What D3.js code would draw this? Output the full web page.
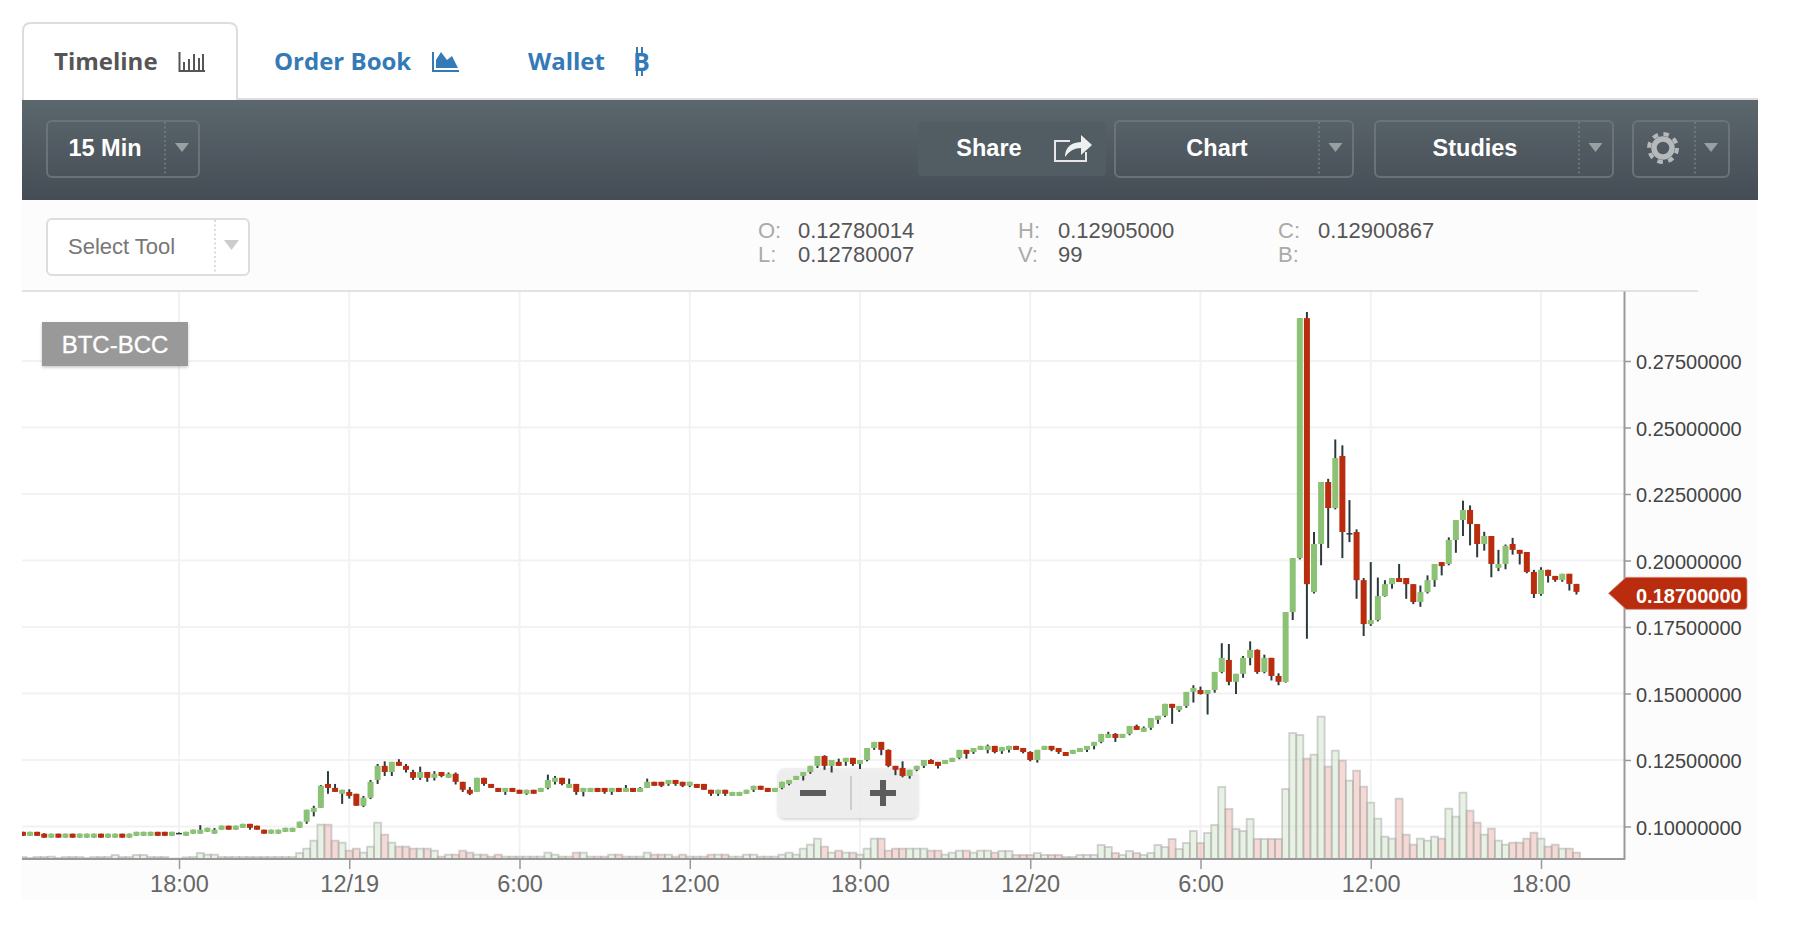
<!DOCTYPE html>
<html><head><meta charset="utf-8">
<script src="https://cdn.jsdelivr.net/npm/d3@7/dist/d3.min.js"></script>
<style>html,body{margin:0;padding:0;background:#fff;overflow:hidden}svg{display:block}</style>
</head><body><svg id="c" width="1794" height="932"></svg>
<script>
const firstBar = new Date(2017,11,18,12,30);
const barMinutes = 15;
const opens = [
.0980,.0965,.0980,.0973,.0958,.0973,.0958,.0973,.0958,.0958,
.0958,.0973,.0958,.0958,.0973,.0958,.0965,.0965,.0965,.0980,
.0980,.0965,.0976,.0965,.0973,.0973,.0980,.0973,.0988,.1003,
.0988,.0995,.1010,.1003,.0988,.0973,.0973,.0980,.0980,.0995,
.1018,.1055,.1070,.1160,.1145,.1123,.1130,.1123,.1078,.1108,
.1175,.1228,.1205,.1243,.1228,.1205,.1183,.1205,.1183,.1205,
.1183,.1198,.1168,.1138,.1130,.1183,.1160,.1145,.1130,.1145,
.1138,.1123,.1138,.1130,.1145,.1168,.1183,.1145,.1160,.1130,
.1130,.1145,.1145,.1130,.1145,.1130,.1145,.1130,.1145,.1168,
.1168,.1160,.1175,.1168,.1153,.1160,.1160,.1138,.1123,.1138,
.1115,.1115,.1123,.1138,.1153,.1145,.1130,.1145,.1160,.1175,
.1190,.1205,.1228,.1265,.1228,.1243,.1243,.1258,.1235,.1250,
.1295,.1318,.1288,.1228,.1220,.1190,.1213,.1228,.1250,.1243,
.1235,.1243,.1258,.1288,.1280,.1288,.1288,.1303,.1283,.1288,
.1303,.1295,.1280,.1250,.1288,.1303,.1295,.1280,.1273,.1280,
.1288,.1303,.1318,.1333,.1348,.1333,.1348,.1378,.1356,.1371,
.1401,.1416,.1461,.1438,.1453,.1506,.1513,.1498,.1513,.1581,
.1626,.1544,.1574,.1634,.1664,.1581,.1634,.1566,.1543,.1806,
.2009,.2911,.1881,.2062,.2295,.2197,.2393,.2103,.2107,.1926,
.1761,.1776,.1866,.1911,.1934,.1934,.1911,.1844,.1881,.1926,
.1994,.1987,.2077,.2152,.2190,.2137,.2062,.2092,.1972,.1987,
.2062,.2040,.2032,.1957,.1874,.1965,.1942,.1927,.1950,.1912];
const closes = [
.0965,.0980,.0965,.0958,.0973,.0958,.0973,.0958,.0973,.0973,
.0973,.0958,.0973,.0973,.0958,.0973,.0980,.0980,.0980,.0965,
.0965,.0980,.0976,.0980,.0988,.0988,.0995,.0988,.1003,.0988,
.1003,.1010,.0995,.0988,.0973,.0988,.0988,.0995,.0995,.1018,
.1063,.1070,.1153,.1145,.1130,.1138,.1115,.1078,.1108,.1168,
.1228,.1205,.1243,.1228,.1213,.1183,.1205,.1183,.1198,.1190,
.1198,.1168,.1138,.1123,.1183,.1160,.1145,.1130,.1145,.1130,
.1123,.1138,.1123,.1145,.1175,.1183,.1160,.1160,.1130,.1145,
.1145,.1130,.1130,.1145,.1130,.1145,.1130,.1145,.1168,.1153,
.1153,.1175,.1160,.1153,.1168,.1145,.1138,.1123,.1138,.1123,
.1130,.1130,.1138,.1153,.1138,.1130,.1145,.1168,.1175,.1190,
.1205,.1228,.1265,.1228,.1250,.1228,.1258,.1235,.1250,.1295,
.1318,.1288,.1228,.1213,.1190,.1213,.1228,.1250,.1235,.1228,
.1250,.1258,.1288,.1273,.1295,.1303,.1303,.1280,.1298,.1303,
.1288,.1280,.1250,.1288,.1303,.1288,.1280,.1265,.1288,.1295,
.1303,.1318,.1348,.1348,.1333,.1348,.1378,.1363,.1371,.1408,
.1416,.1461,.1446,.1453,.1506,.1521,.1498,.1513,.1581,.1634,
.1544,.1574,.1634,.1664,.1581,.1634,.1566,.1544,.1806,.2009,
.2911,.1911,.2062,.2295,.2197,.2385,.2107,.2103,.1926,.1761,
.1776,.1866,.1911,.1934,.1919,.1911,.1844,.1881,.1926,.1987,
.1979,.2077,.2152,.2190,.2137,.2062,.2092,.1987,.1987,.2055,
.2040,.2025,.1957,.1874,.1965,.1942,.1927,.1950,.1912,.1882];
const highs = [
.0980,.0980,.0980,.0975,.0973,.0973,.0973,.0973,.0973,.0973,
.0973,.0973,.0973,.0973,.0973,.0973,.0980,.0980,.0980,.0980,
.0980,.0980,.0977,.0980,.0988,.1005,.0995,.0994,.1003,.1003,
.1003,.1010,.1010,.1003,.0988,.0988,.0988,.0995,.0995,.1018,
.1063,.1078,.1156,.1208,.1160,.1138,.1140,.1123,.1115,.1175,
.1235,.1245,.1243,.1253,.1235,.1213,.1225,.1205,.1208,.1205,
.1203,.1203,.1168,.1148,.1183,.1183,.1160,.1145,.1145,.1145,
.1138,.1138,.1138,.1145,.1195,.1190,.1183,.1180,.1160,.1145,
.1145,.1145,.1145,.1145,.1145,.1156,.1145,.1148,.1180,.1168,
.1168,.1175,.1175,.1168,.1168,.1160,.1160,.1138,.1138,.1138,
.1130,.1130,.1138,.1153,.1153,.1145,.1145,.1168,.1175,.1190,
.1205,.1228,.1265,.1268,.1250,.1255,.1258,.1258,.1250,.1295,
.1318,.1318,.1290,.1228,.1245,.1213,.1228,.1250,.1253,.1243,
.1250,.1258,.1288,.1288,.1295,.1303,.1308,.1303,.1298,.1303,
.1303,.1295,.1283,.1288,.1303,.1303,.1295,.1280,.1288,.1295,
.1303,.1318,.1348,.1356,.1351,.1348,.1378,.1383,.1376,.1408,
.1416,.1461,.1461,.1453,.1506,.1531,.1526,.1513,.1581,.1689,
.1686,.1574,.1641,.1696,.1666,.1646,.1634,.1576,.1806,.2009,
.2911,.2934,.2107,.2295,.2307,.2455,.2433,.2227,.2117,.1934,
.1994,.1936,.1926,.1934,.1987,.1934,.1911,.1906,.1944,.1987,
.1994,.2087,.2152,.2225,.2207,.2137,.2108,.2092,.2040,.2060,
.2085,.2040,.2032,.1965,.1975,.1965,.1942,.1950,.1950,.1912];
const lows = [
.0965,.0965,.0965,.0958,.0958,.0958,.0958,.0958,.0958,.0958,
.0958,.0958,.0958,.0958,.0958,.0958,.0965,.0965,.0965,.0965,
.0965,.0965,.0975,.0965,.0973,.0973,.0980,.0973,.0988,.0988,
.0988,.0995,.0988,.0988,.0973,.0973,.0973,.0980,.0980,.0995,
.1010,.1038,.1070,.1123,.1130,.1085,.1105,.1078,.1073,.1103,
.1160,.1190,.1190,.1228,.1203,.1175,.1175,.1168,.1173,.1185,
.1183,.1158,.1130,.1118,.1130,.1153,.1145,.1130,.1119,.1130,
.1123,.1119,.1123,.1130,.1140,.1158,.1155,.1145,.1119,.1113,
.1130,.1130,.1123,.1119,.1130,.1130,.1130,.1130,.1145,.1153,
.1148,.1153,.1153,.1148,.1148,.1145,.1138,.1115,.1115,.1115,
.1115,.1115,.1123,.1130,.1138,.1130,.1130,.1140,.1155,.1175,
.1173,.1198,.1220,.1213,.1203,.1228,.1228,.1228,.1216,.1245,
.1288,.1268,.1223,.1193,.1185,.1180,.1208,.1220,.1235,.1218,
.1235,.1243,.1253,.1255,.1273,.1288,.1275,.1275,.1273,.1278,
.1288,.1275,.1245,.1240,.1288,.1283,.1273,.1265,.1273,.1280,
.1280,.1290,.1313,.1333,.1318,.1333,.1343,.1363,.1356,.1363,
.1386,.1411,.1386,.1431,.1446,.1466,.1496,.1421,.1503,.1576,
.1531,.1498,.1559,.1606,.1574,.1576,.1549,.1531,.1541,.1776,
.2004,.1706,.1876,.1982,.2047,.2192,.2009,.2069,.1856,.1716,
.1754,.1771,.1864,.1894,.1919,.1856,.1836,.1826,.1876,.1901,
.1944,.1982,.2029,.2092,.2057,.2012,.2037,.1937,.1960,.1967,
.2022,.1985,.1952,.1859,.1867,.1917,.1920,.1920,.1887,.1872];
const volumes = [
6,3,6,6,7,3,6,6,6,3,
6,6,6,12,6,6,12,12,6,6,
6,1,1,5,6,18,13,13,6,6,
6,6,6,6,6,6,6,6,6,18,
31,55,103,103,55,49,25,31,19,37,
109,73,49,37,37,31,31,31,25,7,
13,13,25,19,13,13,7,13,7,7,
7,7,7,7,19,13,7,7,19,19,
7,7,7,13,13,7,7,7,19,13,
13,13,7,13,7,7,7,13,13,13,
7,7,13,13,7,7,7,13,19,13,
31,43,61,37,19,25,19,19,13,31,
61,61,25,31,31,31,31,31,25,25,
13,19,25,25,19,25,25,19,24,24,
12,12,12,18,12,12,12,6,6,12,
12,12,42,36,18,12,24,18,12,18,
42,36,60,30,48,84,48,78,102,216,
150,90,84,120,60,60,60,60,210,378,
372,301,313,427,277,325,295,235,265,217,
169,121,67,61,181,73,43,61,55,67,
61,151,127,199,145,109,73,91,55,43,
49,49,61,79,61,37,43,31,31,19];
const priceTicks = [0.1,0.125,0.15,0.175,0.2,0.225,0.25,0.275];
const timeTicks = [[2017,11,18,18],[2017,11,19,0],[2017,11,19,6],[2017,11,19,12],[2017,11,19,18],[2017,11,20,0],[2017,11,20,6],[2017,11,20,12],[2017,11,20,18]];
const timeLabels = ["18:00","12/19","6:00","12:00","18:00","12/20","6:00","12:00","18:00"];
const lastPrice = 0.187;
const pair = "BTC-BCC";
const infoRows = [["O:","0.12780014",758,798,230],["L:","0.12780007",758,798,254],["H:","0.12905000",1018,1058,230],["V:","99",1018,1058,254],["C:","0.12900867",1278,1318,230],["B:","",1278,1318,254]];

const SANS = "'Liberation Sans',Arial,sans-serif", OPEN = "'Open Sans',sans-serif";
const UP="#8cc276", DOWN="#b92c0e", WICK="#2b3a3c";
const svg=d3.select("#c");
const T=(g,x,y,s,o={})=>g.append("text").attr("x",x).attr("y",y).text(s).attr("dominant-baseline","central")
  .attr("font-family",o.f||SANS).attr("font-size",o.s||23).attr("font-weight",o.w||400).attr("fill",o.c||"#555").attr("text-anchor",o.a||"start");

// ---------- chrome ----------
const defs=svg.append("defs");
const gr=defs.append("linearGradient").attr("id","tb").attr("x1",0).attr("x2",0).attr("y1",0).attr("y2",1);
gr.append("stop").attr("offset",0).attr("stop-color","#5c676d");
gr.append("stop").attr("offset",1).attr("stop-color","#454c55");
defs.append("clipPath").attr("id","plot").append("rect").attr("x",22).attr("y",291).attr("width",1602).attr("height",568);
const sh=defs.append("filter").attr("id","shd").attr("x","-10%").attr("y","-10%").attr("width","120%").attr("height","130%");
sh.append("feDropShadow").attr("dx",0).attr("dy",1.5).attr("stdDeviation",1.5).attr("flood-color","#000").attr("flood-opacity",.22);

svg.append("rect").attr("x",22).attr("y",200).attr("width",1736).attr("height",700).attr("fill","#fcfcfc");
svg.append("rect").attr("x",22).attr("y",291).attr("width",1602).attr("height",568).attr("fill","#fff");
svg.append("line").attr("x1",237).attr("x2",1758).attr("y1",99).attr("y2",99).attr("stroke","#ddd").attr("stroke-width",2);
svg.append("path").attr("d","M23,100V31Q23,23 31,23H229Q237,23 237,31V100").attr("fill","#fff").attr("stroke","#ddd").attr("stroke-width",2);
svg.append("rect").attr("x",22).attr("y",100).attr("width",1736).attr("height",100).attr("fill","url(#tb)");

// tabs
const tabs=svg.append("g");
T(tabs,54,60,"Timeline",{f:OPEN,s:24,w:700,c:"#555"});
T(tabs,274,60,"Order Book",{f:OPEN,s:24,w:700,c:"#337ab7"});
T(tabs,528,60,"Wallet",{f:OPEN,s:24,w:700,c:"#337ab7"});
tabs.append("path").attr("d","M179.5,52V71H205 M184,70V62 M189,70V59 M194,70V54 M199,70V58 M203,70V54").attr("fill","none").attr("stroke","#555").attr("stroke-width",2);
tabs.append("path").attr("d","M433,52V71H459").attr("fill","none").attr("stroke","#337ab7").attr("stroke-width",2);
tabs.append("path").attr("d","M436,68V60L441,52L447,60L452,56L458,68Z").attr("fill","#337ab7");
T(tabs,633,61,"B",{f:OPEN,s:25,w:700,c:"#337ab7"});
tabs.append("path").attr("d","M637,47V53M642,47V53M637,70V76M642,70V76").attr("stroke","#337ab7").attr("stroke-width",2);

// toolbar buttons
function btn(x0,x1,div,arrow,label,cx){
  const g=svg.append("g");
  g.append("rect").attr("x",x0).attr("y",121).attr("width",x1-x0).attr("height",56).attr("rx",5).attr("fill","none").attr("stroke","#6b7379").attr("stroke-width",2);
  g.append("line").attr("x1",div).attr("x2",div).attr("y1",122).attr("y2",176).attr("stroke","#7d8489").attr("stroke-width",1.3).attr("stroke-dasharray","2 2.5");
  g.append("path").attr("d",`M${arrow-7},143H${arrow+7}L${arrow},152Z`).attr("fill","#98a0a4");
  if(label) T(g,cx,148,label,{s:23.5,w:700,c:"#fff",a:"middle"});
}
btn(47,199,165,182,"15 Min",105);
btn(1115,1353,1319,1335.5,"Chart",1217);
btn(1375,1613,1579,1595.5,"Studies",1475);
btn(1633,1729,1695,1711,"",0);
svg.append("rect").attr("x",918).attr("y",122).attr("width",188).attr("height",54).attr("rx",4).attr("fill","#525d63");
T(svg,989,148,"Share",{s:23.5,w:700,c:"#fff",a:"middle"});
svg.append("path").attr("d","M1070,141H1055V161H1086V152").attr("fill","none").attr("stroke","#e4e6e7").attr("stroke-width",2);
svg.append("path").attr("d","M1065,157Q1065,143 1081,142V135L1092,145L1081,155V148Q1071,148 1065,157Z").attr("fill","#eef0f0");
// gear
svg.append("circle").attr("cx",1663).attr("cy",148).attr("r",9).attr("fill","none").attr("stroke","#b5b9bb").attr("stroke-width",5.5);
svg.append("circle").attr("cx",1663).attr("cy",148).attr("r",14).attr("fill","none").attr("stroke","#b5b9bb").attr("stroke-width",4).attr("stroke-dasharray","5.5 5.5");

// select tool
const st=svg.append("g");
st.append("rect").attr("x",47).attr("y",219).attr("width",202).attr("height",56).attr("rx",5).attr("fill","#fff").attr("stroke","#ddd").attr("stroke-width",2);
st.append("line").attr("x1",215).attr("x2",215).attr("y1",220).attr("y2",274).attr("stroke","#c8c8c8").attr("stroke-width",1.3).attr("stroke-dasharray","2 2.5");
st.append("path").attr("d","M224,240H239L231.5,250Z").attr("fill","#ccc");
T(st,68,246,"Select Tool",{s:22,c:"#777"});

// O/H/L/C block
const info=svg.append("g");
infoRows.forEach(r=>{T(info,r[2],r[4],r[0],{s:22,c:"#aaa"});if(r[1])T(info,r[3],r[4],r[1],{s:22,c:"#555"});});
svg.append("line").attr("x1",22).attr("x2",1698).attr("y1",291).attr("y2",291).attr("stroke","#e2e2e2").attr("stroke-width",2);

// ---------- scales ----------
const tickDates=timeTicks.map(a=>new Date(...a));
const x=d3.scaleTime().domain([tickDates[0],tickDates[8]]).range([179,1541]);
const y=d3.scaleLinear().domain([0.08778,0.30131]).range([859,291]);
const v=d3.scaleLinear().domain([0,429]).range([859,716]);
const bars=opens.map((o,i)=>({t:new Date(+firstBar+i*barMinutes*60000),o,c:closes[i],h:highs[i],l:lows[i],vol:volumes[i]}));
const bw=6, vw=7;

// grid
const grid=svg.append("g").attr("stroke","#f2f2f2").attr("stroke-width",2);
grid.selectAll(".h").data(priceTicks).join("line").attr("x1",22).attr("x2",1625).attr("y1",d=>y(d)).attr("y2",d=>y(d));
grid.selectAll(".v").data(tickDates).join("line").attr("x1",d=>x(d)).attr("x2",d=>x(d)).attr("y1",292).attr("y2",859);

// zoom control sits under the candles
const z=svg.append("g");
z.append("rect").attr("x",778).attr("y",768).attr("width",140).attr("height",50).attr("rx",7).attr("fill","rgba(238,238,238,.88)").attr("filter","url(#shd)");
z.append("rect").attr("x",800).attr("y",790).attr("width",26).attr("height",6).attr("fill","#5c5c5c");
z.append("line").attr("x1",851).attr("x2",851).attr("y1",776).attr("y2",810).attr("stroke","#c4c4c4").attr("stroke-width",1.6);
z.append("path").attr("d","M870,790H880V780H886V790H896V796H886V806H880V796H870Z").attr("fill","#5c5c5c");

const plot=svg.append("g").attr("clip-path","url(#plot)");
// volume
plot.append("g").selectAll("rect").data(bars).join("rect")
  .attr("x",d=>x(d.t)-vw/2).attr("width",vw).attr("y",d=>v(d.vol)).attr("height",d=>859-v(d.vol))
  .attr("fill",d=>d.c>=d.o?"rgba(205,225,198,.48)":"rgba(230,165,155,.42)")
  .attr("stroke","rgba(165,165,165,.5)").attr("stroke-width",1.8);
// candles
plot.append("g").selectAll("line").data(bars).join("line")
  .attr("x1",d=>x(d.t)).attr("x2",d=>x(d.t)).attr("y1",d=>y(d.h)).attr("y2",d=>y(d.l))
  .attr("stroke",WICK).attr("stroke-width",2);
plot.append("g").selectAll("rect").data(bars).join("rect")
  .attr("x",d=>x(d.t)-bw/2).attr("width",bw)
  .attr("y",d=>y(Math.max(d.o,d.c))).attr("height",d=>d.o===d.c?1.5:Math.abs(y(d.o)-y(d.c)))
  .attr("fill",d=>d.o===d.c?WICK:(d.c>d.o?UP:DOWN));

// axes
const ax=svg.append("g").attr("transform","translate(0,859)")
  .call(d3.axisBottom(x).tickValues(tickDates).tickSize(10).tickSizeOuter(0).tickPadding(0).tickFormat((d,i)=>timeLabels[i]));
ax.select(".domain").remove();
ax.append("line").attr("x1",22).attr("x2",1625).attr("stroke","#999").attr("stroke-width",2);
ax.selectAll(".tick line").attr("stroke","#999").attr("stroke-width",1.5);
ax.selectAll(".tick text").attr("y",25).attr("dy",0).attr("dominant-baseline","central").attr("font-family",SANS).attr("font-size",23.5).attr("fill","#666");
const ay=svg.append("g").attr("transform","translate(1624,0)")
  .call(d3.axisRight(y).tickValues(priceTicks).tickSize(7).tickSizeOuter(0).tickPadding(0).tickFormat(d3.format(".8f")));
ay.select(".domain").attr("stroke","#999").attr("stroke-width",2);
ay.selectAll(".tick line").attr("stroke","#999").attr("stroke-width",1.5);
ay.selectAll(".tick text").attr("x",12).attr("dy",0).attr("y",0.8).attr("dominant-baseline","central").attr("font-family",SANS).attr("font-size",20).attr("fill","#444");

// pair label
const pl=svg.append("g");
pl.append("rect").attr("x",42).attr("y",322).attr("width",146).attr("height",44).attr("fill","#999").attr("filter","url(#shd)");
T(pl,115,344,pair,{s:24,c:"#fff",a:"middle"}).attr("stroke","#fff").attr("stroke-width",.35);

// last price tag
const ty=y(lastPrice)-1.7;
const tag=svg.append("g");
tag.append("path").attr("d",`M1608.5,${ty}L1626,${ty-16}H1744Q1747,${ty-16} 1747,${ty-13}V${ty+13}Q1747,${ty+16} 1744,${ty+16}H1626Z`)
  .attr("fill",DOWN).attr("stroke","#d9897a").attr("stroke-width",.8);
T(tag,1636,ty+3,d3.format(".8f")(lastPrice),{s:20,w:700,c:"#fff"});
</script></body></html>
